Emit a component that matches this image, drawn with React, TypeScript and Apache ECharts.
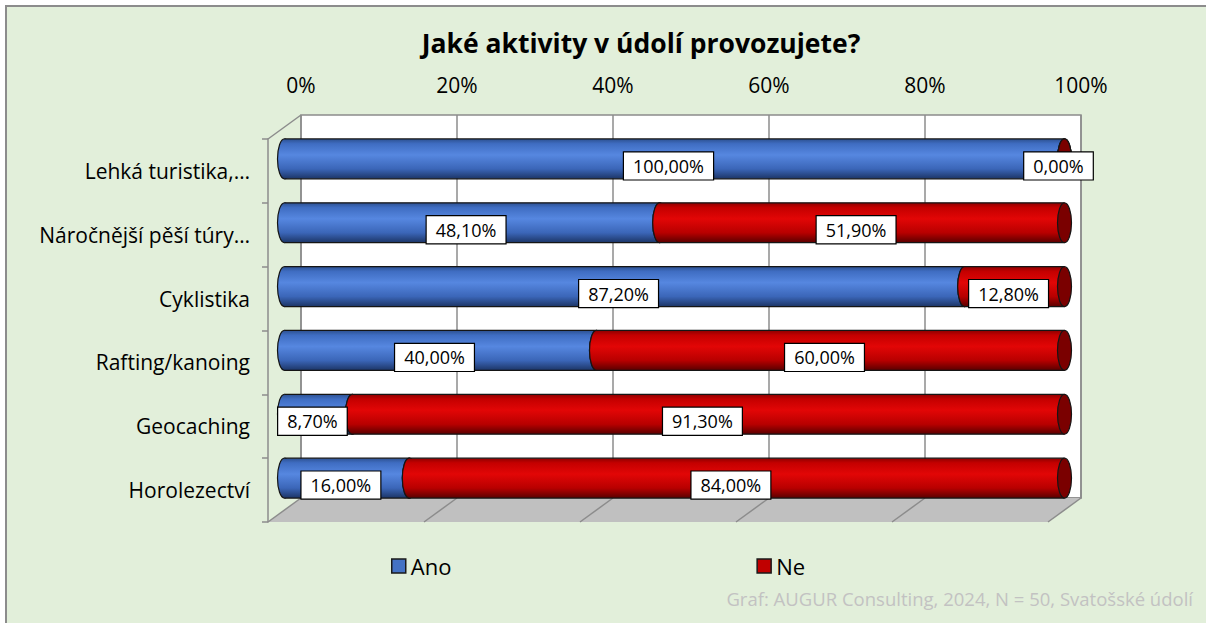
import { useEffect, useRef } from 'react';
import * as echarts from 'echarts';

const categories = ['Lehká turistika,…', 'Náročnější pěší túry…', 'Cyklistika', 'Rafting/kanoing', 'Geocaching', 'Horolezectví'];
const anoValues = [100, 48.1, 87.2, 40, 8.7, 16];
const neValues = [0, 51.9, 12.8, 60, 91.3, 84];
const xTicks = [0, 20, 40, 60, 80, 100];
const seriesNames = ['Ano', 'Ne'];
const chartTitle = 'Jaké aktivity v údolí provozujete?';
const footerText = 'Graf: AUGUR Consulting, 2024, N = 50, Svatošské údolí';

const FONT = '"Open Sans", "Noto Sans", sans-serif';
const DX = -33;
const DY = 24;
const WALL = '#8c8c8c';

const fmt = (v: number) => v.toFixed(2).replace('.', ',') + '%';

const blueGrad = () =>
  new echarts.graphic.LinearGradient(0, 0, 0, 1, [
    { offset: 0, color: '#2d5191' },
    { offset: 0.12, color: '#3f6dc2' },
    { offset: 0.4, color: '#5687e0' },
    { offset: 0.75, color: '#3b66b8' },
    { offset: 1, color: '#1c3566' },
  ]);
const redGrad = () =>
  new echarts.graphic.LinearGradient(0, 0, 0, 1, [
    { offset: 0, color: '#8e0000' },
    { offset: 0.12, color: '#c40000' },
    { offset: 0.4, color: '#e20606' },
    { offset: 0.75, color: '#b80000' },
    { offset: 1, color: '#5a0000' },
  ]);

function cylinder(gradFn: () => any, capColor: string) {
  return (params: any, api: any) => {
    const cat = api.value(0);
    const s = api.value(1);
    const e = api.value(2);
    const p0 = api.coord([s, cat]);
    const p1 = api.coord([e, cat]);
    const h = api.size([0, 1])[1] * 0.625;
    const rx = 7;
    const y = p0[1] - h / 2;
    const stroke = '#151515';
    return {
      type: 'group',
      children: [
        { type: 'ellipse', shape: { cx: p0[0], cy: p0[1], rx, ry: h / 2 }, style: { fill: gradFn(), stroke, lineWidth: 1.2 } },
        { type: 'rect', shape: { x: p0[0], y, width: Math.max(0, p1[0] - p0[0]), height: h }, style: { fill: gradFn() } },
        { type: 'line', shape: { x1: p0[0], y1: y, x2: p1[0], y2: y }, style: { stroke, lineWidth: 1.2 } },
        { type: 'line', shape: { x1: p0[0], y1: y + h, x2: p1[0], y2: y + h }, style: { stroke, lineWidth: 1.2 } },
        { type: 'ellipse', shape: { cx: p1[0], cy: p1[1], rx, ry: h / 2 }, style: { fill: capColor, stroke, lineWidth: 1.2 } },
      ],
    };
  };
}

function labelRender(params: any, api: any) {
  const cat = api.value(0);
  const s = api.value(1);
  const e = api.value(2);
  const p0 = api.coord([s, cat]);
  const p1 = api.coord([e, cat]);
  return {
    type: 'text',
    x: (p0[0] + p1[0]) / 2 - 6,
    y: p0[1] + 7,
    style: {
      text: fmt(e - s),
      fill: '#000',
      fontSize: 18,
      fontFamily: FONT,
      align: 'center',
      verticalAlign: 'middle',
      backgroundColor: '#ffffff',
      borderColor: '#000000',
      borderWidth: 1.2,
      padding: [5, 9, 4, 9],
    },
  };
}

export default function App() {
  const ref = useRef<HTMLDivElement>(null);
  useEffect(() => {
    if (!ref.current) return;
    const chart = echarts.init(ref.current, null, { renderer: 'svg' });
    const anoData = categories.map((_, i) => [i, 0, anoValues[i]]);
    const neData = categories.map((_, i) => [i, anoValues[i], anoValues[i] + neValues[i]]);

    const option: any = {
      animation: false,
      backgroundColor: '#ffffff',
      textStyle: { fontFamily: FONT },
      color: ['#4472c4', '#c00000'],
      graphic: [
        { type: 'rect', z: -10, shape: { x: 6, y: 6, width: 1220, height: 640 }, style: { fill: '#e2efda', stroke: '#8c8c8c', lineWidth: 2 } },
        { type: 'text', z: 10, x: 641, y: 43, style: { text: chartTitle, fontSize: 26.5, fontWeight: 'bold', fontFamily: FONT, fill: '#000', align: 'center', verticalAlign: 'middle' } },
        { type: 'text', z: 10, x: 1193, y: 598, style: { text: footerText, fontSize: 18.5, fontFamily: FONT, fill: '#c2c2c2', align: 'right', verticalAlign: 'middle' } },
      ],
      legend: {
        left: 386,
        top: 550,
        itemGap: 305,
        itemWidth: 14,
        itemHeight: 14,
        textStyle: { fontSize: 22, color: '#000', fontFamily: FONT },
        data: seriesNames.map((n, i) => ({
          name: n,
          icon: 'rect',
          itemStyle: { color: i === 0 ? '#4472c4' : '#c00000', borderColor: '#1a1a1a', borderWidth: 1.5 },
        })),
      },
      grid: [
        { left: 301, top: 115, width: 780, height: 383, show: true, backgroundColor: '#ffffff', borderColor: WALL, borderWidth: 1.5 },
        { left: 284.5, top: 127, width: 780, height: 383 },
        { left: 268, top: 139, width: 780, height: 383 },
      ],
      xAxis: [
        {
          gridIndex: 0,
          type: 'value',
          position: 'top',
          min: 0,
          max: 100,
          interval: 20,
          axisLine: { show: true, lineStyle: { color: WALL, width: 1.5 } },
          axisTick: { show: true, length: 8, lineStyle: { color: WALL, width: 1.5 } },
          axisLabel: { formatter: '{value}%', fontSize: 21, color: '#000', margin: 20 },
          splitLine: { show: true, lineStyle: { color: WALL, width: 1.5 } },
        },
        { gridIndex: 1, type: 'value', min: 0, max: 100, show: false },
        { gridIndex: 2, type: 'value', min: 0, max: 100, show: false },
      ],
      yAxis: [
        { gridIndex: 0, type: 'value', min: 0, max: 1, show: false },
        { gridIndex: 1, type: 'category', inverse: true, data: categories, show: false },
        {
          gridIndex: 2,
          type: 'category',
          inverse: true,
          data: categories,
          axisLine: { show: true, lineStyle: { color: WALL, width: 1.5 } },
          axisTick: { show: true, length: 6, lineStyle: { color: WALL, width: 1.5 } },
          axisLabel: { fontSize: 21, color: '#000', margin: 18 },
          splitLine: { show: false },
        },
      ],
      series: [
        {
          type: 'custom',
          name: 'decor',
          xAxisIndex: 0,
          yAxisIndex: 0,
          z: 1,
          silent: true,
          clip: false,
          data: [[0, 0]],
          renderItem: (params: any, api: any) => {
            const cs = params.coordSys;
            const x0 = cs.x;
            const y0 = cs.y;
            const yb = cs.y + cs.height;
            const x1 = cs.x + cs.width;
            const children: any[] = [
              { type: 'polygon', shape: { points: [[x0, yb], [x1, yb], [x1 + DX, yb + DY], [x0 + DX, yb + DY]] }, style: { fill: '#c0c0c0' } },
              { type: 'line', shape: { x1: x0, y1: y0, x2: x0 + DX, y2: y0 + DY }, style: { stroke: WALL, lineWidth: 1.5 } },
            ];
            xTicks.forEach((t) => {
              const px = api.coord([t, 0])[0];
              children.push({ type: 'line', shape: { x1: px, y1: yb, x2: px + DX, y2: yb + DY }, style: { stroke: WALL, lineWidth: 1.5 } });
            });
            return { type: 'group', children };
          },
        },
        {
          type: 'custom',
          name: seriesNames[0],
          xAxisIndex: 1,
          yAxisIndex: 1,
          z: 3,
          clip: false,
          itemStyle: { color: '#4472c4' },
          encode: { x: [1, 2], y: 0 },
          data: anoData,
          renderItem: cylinder(blueGrad, '#2a4c8c'),
        },
        {
          type: 'custom',
          name: seriesNames[1],
          xAxisIndex: 1,
          yAxisIndex: 1,
          z: 3,
          clip: false,
          itemStyle: { color: '#c00000' },
          encode: { x: [1, 2], y: 0 },
          data: neData,
          renderItem: cylinder(redGrad, '#7a0000'),
        },
        {
          type: 'custom',
          name: 'labelsAno',
          xAxisIndex: 1,
          yAxisIndex: 1,
          z: 10,
          clip: false,
          encode: { x: [1, 2], y: 0 },
          data: anoData,
          renderItem: labelRender,
        },
        {
          type: 'custom',
          name: 'labelsNe',
          xAxisIndex: 1,
          yAxisIndex: 1,
          z: 10,
          clip: false,
          encode: { x: [1, 2], y: 0 },
          data: neData,
          renderItem: labelRender,
        },
      ],
    };
    chart.setOption(option);
    return () => chart.dispose();
  }, []);
  return <div ref={ref} style={{ position: 'fixed', left: 0, top: 0, width: 1206, height: 623 }} />;
}
